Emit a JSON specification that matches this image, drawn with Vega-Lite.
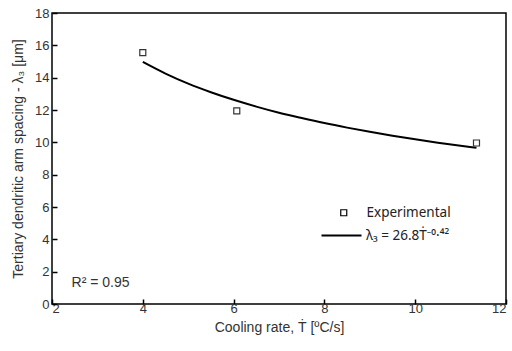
{
  "$schema": "https://vega.github.io/schema/vega-lite/v6.json",
  "width": 454,
  "height": 291,
  "autosize": {"type": "none"},
  "padding": {"left": 52, "top": 13, "right": 6, "bottom": 47},
  "background": "white",
  "config": {
    "font": "Liberation Sans",
    "view": {"stroke": "#000", "strokeWidth": 1.5},
    "axis": {"labelOverlap": false, "grid": false, "domain": false}
  },
  "datasets": {
    "exp": [
      {"rate": 4.0, "spacing": 15.55, "series": "Experimental"},
      {"rate": 6.07, "spacing": 11.94, "series": "Experimental"},
      {"rate": 11.35, "spacing": 9.96, "series": "Experimental"}
    ],
    "fit": [
      {"rate": 4.0, "spacing": 14.97, "model": "λ₃ = 26.8Ṫ⁻⁰·⁴²"},
      {"rate": 4.5, "spacing": 14.25, "model": "λ₃ = 26.8Ṫ⁻⁰·⁴²"},
      {"rate": 5.0, "spacing": 13.63, "model": "λ₃ = 26.8Ṫ⁻⁰·⁴²"},
      {"rate": 5.5, "spacing": 13.10, "model": "λ₃ = 26.8Ṫ⁻⁰·⁴²"},
      {"rate": 6.0, "spacing": 12.63, "model": "λ₃ = 26.8Ṫ⁻⁰·⁴²"},
      {"rate": 6.5, "spacing": 12.21, "model": "λ₃ = 26.8Ṫ⁻⁰·⁴²"},
      {"rate": 7.0, "spacing": 11.83, "model": "λ₃ = 26.8Ṫ⁻⁰·⁴²"},
      {"rate": 7.5, "spacing": 11.50, "model": "λ₃ = 26.8Ṫ⁻⁰·⁴²"},
      {"rate": 8.0, "spacing": 11.19, "model": "λ₃ = 26.8Ṫ⁻⁰·⁴²"},
      {"rate": 8.5, "spacing": 10.91, "model": "λ₃ = 26.8Ṫ⁻⁰·⁴²"},
      {"rate": 9.0, "spacing": 10.65, "model": "λ₃ = 26.8Ṫ⁻⁰·⁴²"},
      {"rate": 9.5, "spacing": 10.41, "model": "λ₃ = 26.8Ṫ⁻⁰·⁴²"},
      {"rate": 10.0, "spacing": 10.19, "model": "λ₃ = 26.8Ṫ⁻⁰·⁴²"},
      {"rate": 10.5, "spacing": 9.98, "model": "λ₃ = 26.8Ṫ⁻⁰·⁴²"},
      {"rate": 11.0, "spacing": 9.79, "model": "λ₃ = 26.8Ṫ⁻⁰·⁴²"},
      {"rate": 11.35, "spacing": 9.66, "model": "λ₃ = 26.8Ṫ⁻⁰·⁴²"}
    ],
    "note": [
      {"rate": 2.43, "spacing": 1.3, "label": "R² = 0.95"}
    ]
  },
  "encoding": {
    "x": {"field": "rate", "type": "quantitative", "scale": {"domain": [2, 12], "nice": false, "zero": false},
          "axis": {"values": [2, 4, 6, 8, 10, 12], "title": "Cooling rate, Ṫ [ºC/s]", "grid": false, "domain": false, "ticks": true, "tickColor": "#000", "tickWidth": 1.5, "tickSize": -5, "zindex": 1, "labelOverlap": false, "labelFont": "Liberation Sans", "labelFontSize": 13, "labelColor": "#333", "labelPadding": 3, "titleFont": "Liberation Sans", "titleFontSize": 14, "titleFontWeight": "normal", "titleColor": "#333", "titlePadding": 5}},
    "y": {"field": "spacing", "type": "quantitative", "scale": {"domain": [0, 18], "nice": false, "zero": false},
          "axis": {"values": [0, 2, 4, 6, 8, 10, 12, 14, 16, 18], "title": "Tertiary dendritic arm spacing - λ₃ [μm]", "grid": false, "domain": false, "ticks": true, "tickColor": "#000", "tickWidth": 1.5, "tickSize": -5, "zindex": 1, "labelOverlap": false, "labelFont": "Liberation Sans", "labelFontSize": 13, "labelColor": "#333", "labelPadding": 8, "titleFont": "Liberation Sans", "titleFontSize": 14, "titleFontWeight": "normal", "titleColor": "#333", "titlePadding": 9}}
  },
  "layer": [
    {
      "data": {"name": "fit"},
      "mark": {"type": "line", "strokeWidth": 2, "interpolate": "monotone"},
      "encoding": {
        "color": {"field": "model", "type": "nominal", "scale": {"range": ["#000"]},
          "legend": {"title": null, "orient": "none", "legendX": 268, "legendY": 201, "labelFont": "Noto Sans", "labelFontSize": 13.5, "labelColor": "#222", "labelOffset": 3, "symbolType": "stroke", "symbolSize": 1600, "symbolStrokeWidth": 2.2, "padding": 0}}
      }
    },
    {
      "data": {"name": "exp"},
      "mark": {"type": "point", "filled": false, "color": "#333", "opacity": 1, "size": 36, "strokeWidth": 1.2},
      "encoding": {
        "shape": {"field": "series", "type": "nominal",
          "scale": {"range": ["square"]},
          "legend": {"title": null, "orient": "none", "legendX": 285, "legendY": 193, "labelFont": "Noto Sans", "labelFontSize": 13.5, "labelColor": "#222", "labelOffset": 16, "symbolSize": 36, "symbolStrokeWidth": 1.2, "symbolStrokeColor": "#000", "padding": 0}}
      }
    },
    {
      "data": {"name": "note"},
      "mark": {"type": "text", "align": "left", "baseline": "middle", "fontSize": 14, "color": "#333", "font": "Liberation Sans"},
      "encoding": {
        "text": {"field": "label"}
      }
    }
  ]
}
